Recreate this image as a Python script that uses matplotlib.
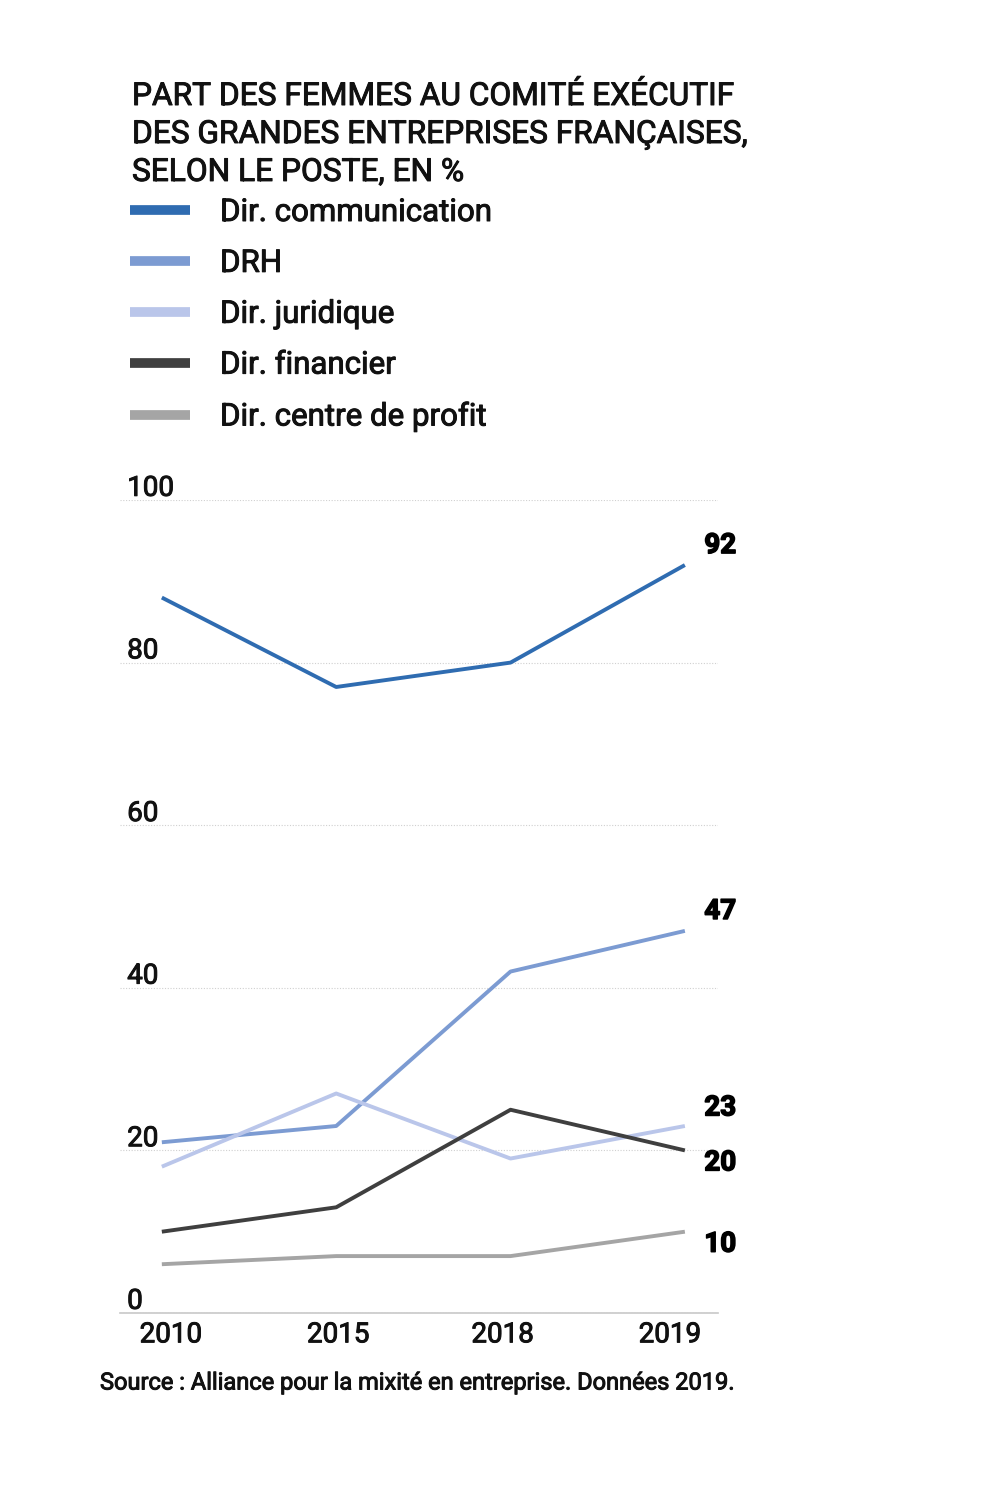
import matplotlib
matplotlib.use("Agg")
import matplotlib.pyplot as plt
import matplotlib.transforms as mtransforms
import matplotlib.patheffects as pe

plt.rcParams["font.family"] = ["Roboto", "DejaVu Sans"]

# données
years = ["2010", "2015", "2018", "2019"]
series_names = ["Dir. communication", "DRH", "Dir. juridique", "Dir. financier", "Dir. centre de profit"]
communication = [88, 77, 80, 92]
drh = [21, 23, 42, 47]
juridique = [18, 27, 19, 23]
financier = [10, 13, 25, 20]
centre_profit = [6, 7, 7, 10]
yticks = [0, 20, 40, 60, 80, 100]

title = "PART DES FEMMES AU COMITÉ EXÉCUTIF\nDES GRANDES ENTREPRISES FRANÇAISES,\nSELON LE POSTE, EN %"
source = "Source : Alliance pour la mixité en entreprise. Données 2019."

colors = ["#2f6cb1", "#7c9bd2", "#bac6ea", "#3f3f3f", "#a5a5a5"]
# décalage vertical (pt) des étiquettes de fin de ligne
label_dy = [14, 14, 13, -9, -9]
# décalage horizontal (px) des années sous l'axe
xlabel_dx = [9, 2, -8, -15]

TXT = "#111111"
heavier = [pe.withStroke(linewidth=0.7, foreground=TXT)]  # imite la graisse "medium"
heaviest = [pe.withStroke(linewidth=1.1, foreground="#000000")]

fig = plt.figure(figsize=(10.04, 14.86), dpi=100)
ax = fig.add_axes([120 / 1004, 1 - 1313 / 1486, 598 / 1004, 813 / 1486])

x = list(range(len(years)))
all_series = [communication, drh, juridique, financier, centre_profit]
lines = []
for vals, name, c in zip(all_series, series_names, colors):
    ln, = ax.plot(x, vals, color=c, lw=2.8, label=name, solid_capstyle="butt", zorder=3)
    lines.append(ln)

for vals, dy in zip(all_series, label_dy):
    ax.annotate(str(vals[-1]), xy=(x[-1], vals[-1]), xytext=(14, dy), textcoords="offset points",
                ha="left", va="center", fontsize=20, fontweight="bold", color="#000000",
                path_effects=heaviest)

ax.set_xlim(-0.24, 3.19)
ax.set_ylim(0, 100)
for s in ["top", "right", "left"]:
    ax.spines[s].set_visible(False)
ax.spines["bottom"].set_color("#c8c8c8")
ax.spines["bottom"].set_linewidth(1.2)

ax.set_yticks(yticks)
ax.yaxis.grid(True, color="#d0d0d0", linestyle=(0, (1, 1.5)), linewidth=0.8)
ax.tick_params(axis="y", length=0, labelleft=False)
trans = mtransforms.blended_transform_factory(ax.transAxes, ax.transData)
for t in yticks:
    ax.annotate(str(t), xy=(0.012, t), xycoords=trans, xytext=(0, 3), textcoords="offset points",
                ha="left", va="baseline", fontsize=20, color=TXT, annotation_clip=False,
                path_effects=heavier)

ax.set_xticks(x)
ax.set_xticklabels(years, fontsize=20, color=TXT)
ax.tick_params(axis="x", length=0, pad=6)
for lbl, dx in zip(ax.get_xticklabels(), xlabel_dx):
    lbl.set_transform(lbl.get_transform() + mtransforms.ScaledTranslation(dx / 100, 0, fig.dpi_scale_trans))
    lbl.set_path_effects(heavier)

fig.text(132 / 1004, 1 - 82 / 1486, title, ha="left", va="top", fontsize=22.8,
         color=TXT, linespacing=1.39, path_effects=heavier)

leg = fig.legend(handles=lines, loc="upper left", bbox_to_anchor=(130 / 1004, 1 - 198 / 1486),
                 frameon=False, fontsize=22.5, handlelength=1.92, handletextpad=0.96,
                 labelspacing=0.70, borderpad=0, borderaxespad=0)
for h in leg.legend_handles:
    h.set_linewidth(7)
for t in leg.get_texts():
    t.set_color(TXT)
    t.set_path_effects(heavier)

fig.text(100 / 1004, 1 - 1383 / 1486, source, ha="left", va="center", fontsize=17,
         color=TXT, path_effects=heavier)

fig.savefig("out.png", dpi=100, facecolor="white")
